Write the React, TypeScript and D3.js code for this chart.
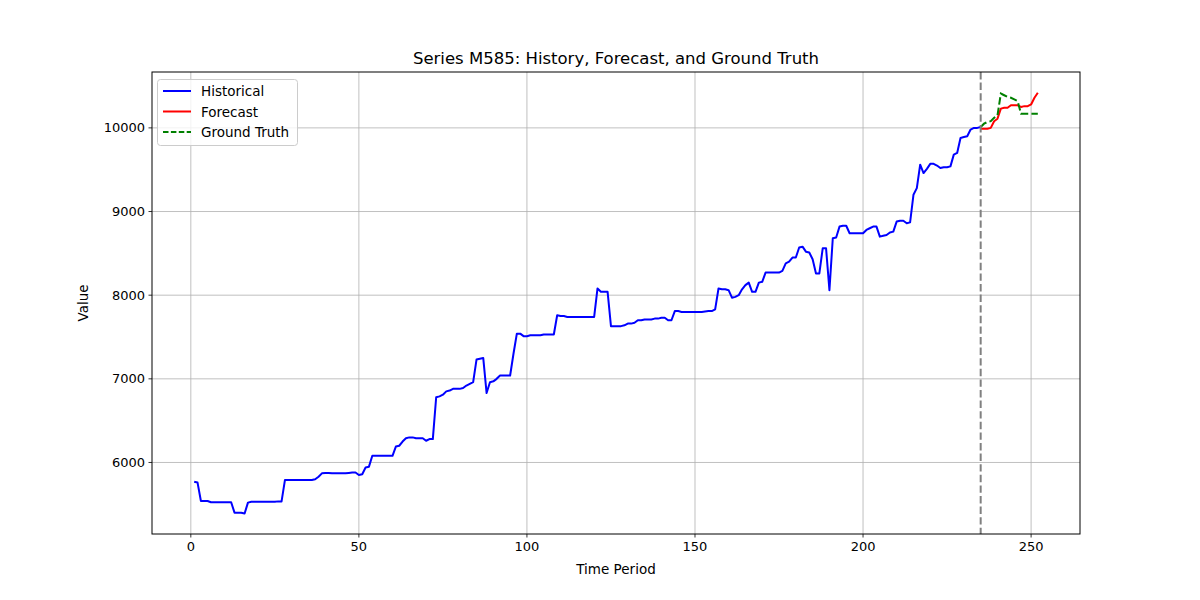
import React, { useEffect } from "react";
import * as d3 from "d3";

const historical: number[] = [
  5770, 5760, 5540, 5540, 5540, 5525, 5525, 5525, 5525, 5525, 5525, 5525, 5400, 5400, 5400, 5390, 5520,
  5530, 5530, 5530, 5530, 5530, 5530, 5530, 5530, 5535, 5535,
  5790, 5790, 5790, 5790, 5790, 5790, 5790, 5790, 5790, 5800, 5830,
  5870, 5875, 5875, 5870, 5870, 5870, 5870, 5870, 5875, 5880, 5880, 5850, 5860, 5940, 5950,
  6080, 6080, 6080, 6080, 6080, 6080, 6080, 6190, 6200, 6250, 6290, 6300, 6300, 6290, 6290, 6290, 6260, 6280, 6280,
  6780, 6790, 6810, 6850, 6860, 6880, 6880, 6880, 6890, 6920, 6940, 6960, 7230, 7240, 7250, 6830, 6960, 6970, 7000,
  7040, 7040, 7040, 7040, 7300, 7540, 7540, 7510, 7510, 7520, 7520, 7520, 7520, 7530, 7530, 7530, 7530,
  7760, 7750, 7750, 7740, 7740, 7740, 7740, 7740, 7740, 7740, 7740, 7740, 8080, 8040, 8040, 8040,
  7630, 7630, 7630, 7630, 7640, 7660, 7660, 7670, 7700, 7700, 7710, 7710, 7710, 7720, 7720, 7730, 7730, 7700, 7700,
  7810, 7810, 7800, 7800, 7800, 7800, 7800, 7800, 7800, 7805, 7810, 7810, 7830, 8080, 8070, 8070, 8060,
  7970, 7980, 8000, 8070, 8120, 8150, 8040, 8040, 8150, 8160, 8270, 8270, 8270, 8270, 8270, 8290, 8380, 8400,
  8450, 8450, 8570, 8580, 8520, 8510, 8430, 8260, 8260, 8560, 8560, 8060, 8680, 8690, 8820, 8830, 8830,
  8740, 8740, 8740, 8740, 8740, 8780, 8800, 8820, 8820, 8700, 8710, 8720, 8750, 8760, 8880, 8890, 8890, 8860, 8870,
  9200, 9280, 9560, 9460, 9510, 9570, 9570, 9550, 9520, 9530, 9530, 9540, 9680, 9700, 9880, 9890, 9900, 9980, 10000, 10000, 10010,
];
const forecast: number[] = [
  9990, 9990, 9990, 10000, 10080, 10110, 10230, 10240, 10240, 10270, 10270, 10270, 10250, 10260, 10260, 10280, 10360, 10420,
];
const groundTruth: number[] = [
  10010, 10050, 10070, 10080, 10120, 10150, 10410, 10390, 10370, 10360, 10340, 10320, 10170, 10170, 10170, 10170, 10170, 10170,
];
const xTicks = [0, 50, 100, 150, 200, 250];
const yTicks = [6000, 7000, 8000, 9000, 10000];
const legendItems = [
  { label: "Historical", color: "blue", dash: "" },
  { label: "Forecast", color: "red", dash: "" },
  { label: "Ground Truth", color: "green", dash: "5.5,2.4" },
];

export default function App() {
  useEffect(() => {
    document.body.style.margin = "0";
  }, []);
  const L = 152, R = 1080, T = 72, B = 534;
  const forecastStart = historical.length;
  const x = d3.scaleLinear().domain([-11.55, 264.55]).range([L, R]);
  const y = d3.scaleLinear().domain([5145, 10668]).range([B, T]);
  const hist = historical.map((v, i) => [i + 1, v] as [number, number]);
  const fc = forecast.map((v, i) => [forecastStart + i, v] as [number, number]);
  const gt = groundTruth.map((v, i) => [forecastStart + i, v] as [number, number]);
  const line = d3.line<[number, number]>().x((d) => x(d[0])).y((d) => y(d[1]));
  const font = "DejaVu Sans, sans-serif";
  return (
    <svg width={1200} height={600} style={{ display: "block", background: "white" }} fontFamily={font}>
      <rect x={0} y={0} width={1200} height={600} fill="white" />
      {xTicks.map((t) => (
        <g key={"x" + t}>
          <line x1={x(t)} x2={x(t)} y1={T} y2={B} stroke="#b0b0b0" strokeWidth={0.8} />
          <line x1={x(t)} x2={x(t)} y1={B} y2={B + 3.5} stroke="black" strokeWidth={0.8} />
          <text x={x(t)} y={B + 17} fontSize={13} textAnchor="middle">{t}</text>
        </g>
      ))}
      {yTicks.map((t) => (
        <g key={"y" + t}>
          <line x1={L} x2={R} y1={y(t)} y2={y(t)} stroke="#b0b0b0" strokeWidth={0.8} />
          <line x1={L - 3.5} x2={L} y1={y(t)} y2={y(t)} stroke="black" strokeWidth={0.8} />
          <text x={L - 7} y={y(t) + 4.5} fontSize={13} textAnchor="end">{t}</text>
        </g>
      ))}
      <path d={line(hist)!} fill="none" stroke="blue" strokeWidth={2} strokeLinejoin="round" />
      <path d={line(fc)!} fill="none" stroke="red" strokeWidth={2} strokeLinejoin="round" />
      <path d={line(gt)!} fill="none" stroke="green" strokeWidth={2} strokeDasharray="7.4,3.2" />
      <line x1={x(forecastStart)} x2={x(forecastStart)} y1={T} y2={B} stroke="gray" strokeWidth={2} strokeDasharray="7.4,3.2" />
      <rect x={L} y={T} width={R - L} height={B - T} fill="none" stroke="black" strokeWidth={1} />
      <text x={(L + R) / 2} y={64} fontSize={16.5} textAnchor="middle">Series M585: History, Forecast, and Ground Truth</text>
      <text x={(L + R) / 2} y={574} fontSize={13.5} textAnchor="middle">Time Period</text>
      <text transform={`translate(88,${(T + B) / 2}) rotate(-90)`} fontSize={13.5} textAnchor="middle">Value</text>
      <rect x={157.5} y={79.5} width={140} height={66} rx={3} fill="white" fillOpacity={0.8} stroke="#cccccc" />
      {legendItems.map((it, i) => (
        <g key={it.label}>
          <line x1={163} x2={191} y1={91 + i * 20.5} y2={91 + i * 20.5} stroke={it.color} strokeWidth={2} strokeDasharray={it.dash} />
          <text x={201} y={96 + i * 20.5} fontSize={13.5}>{it.label}</text>
        </g>
      ))}
    </svg>
  );
}
